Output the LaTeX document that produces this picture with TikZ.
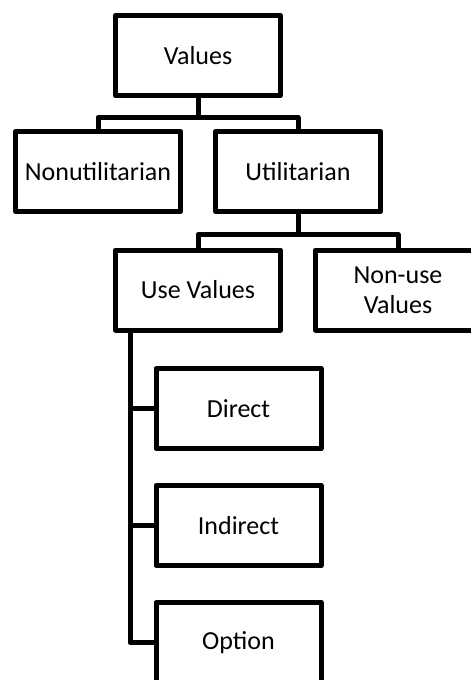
\documentclass[tikz,border=0pt]{standalone}
\usepackage{fontspec}
\setmainfont{Carlito}
\usetikzlibrary{positioning}

\begin{document}
\begin{tikzpicture}[x=1pt, y=-1pt, on grid]
  \useasboundingbox (0,0) rectangle (471,680);
  \clip (0,0) rectangle (471,680);
  \begin{scope}[every node/.style={rectangle,draw,line width=5pt,line join=round,
      minimum width=165pt,minimum height=80pt,inner sep=0pt,align=center,
      font=\fontsize{26}{30}\selectfont}]
    \node (V) at (198,55.5) {Values};
    \node (NU) [below left= 116pt and 100pt of V] {Nonutilitarian};
    \node (U) [below right= 116pt and 100pt of V] {Utilitarian};
    \node (UV) [below left= 118.5pt and 100pt of U] {Use Values};
    \node (NUV) [below right= 118.5pt and 100pt of U] {Non-use\\Values};
    \node (D) [below right= 118.5pt and 40.5pt of UV] {Direct};
    \node (I) [below= 117pt of D] {Indirect};
    \node (O) [below= 117pt of I] {Option};
  \end{scope}
  \begin{scope}[line width=5pt, line join=round]
    \draw (V.south) -- ++(0,19.5) -| (NU.north);
    \draw (V.south) -- ++(0,19.5) -| (U.north);
    \draw (U.south) -- ++(0,20.5) -| (UV.north);
    \draw (U.south) -- ++(0,20.5) -| (NUV.north);
    \coordinate (T) at ([xshift=17pt]UV.south west);
    \draw (T) |- (D.west);
    \draw (T) |- (I.west);
    \draw (T) |- (O.west);
  \end{scope}
\end{tikzpicture}
\end{document}
